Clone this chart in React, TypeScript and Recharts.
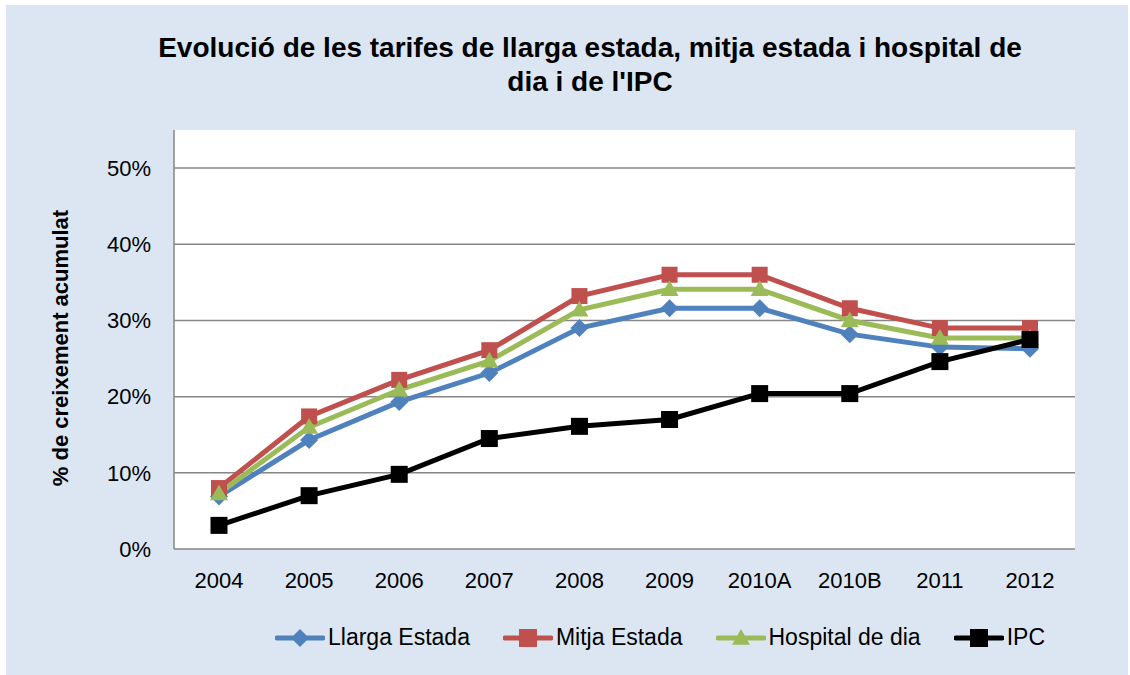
import React from 'react';
import { LineChart, Line, XAxis, YAxis, ReferenceLine } from 'recharts';

const years = ['2004', '2005', '2006', '2007', '2008', '2009', '2010A', '2010B', '2011', '2012'];
const llargaEstada = [6.9, 14.3, 19.3, 23.1, 29.0, 31.6, 31.6, 28.2, 26.5, 26.3];
const mitjaEstada = [8.0, 17.4, 22.2, 26.1, 33.2, 36.0, 36.0, 31.6, 29.0, 29.0];
const hospitalDia = [7.3, 16.0, 20.9, 24.7, 31.4, 34.1, 34.1, 30.0, 27.7, 27.7];
const ipc = [3.1, 7.0, 9.8, 14.5, 16.1, 17.0, 20.4, 20.4, 24.6, 27.5];
const yTicks = [0, 10, 20, 30, 40, 50];

const data = years.map((y, i) => ({
  year: y,
  llarga: llargaEstada[i],
  mitja: mitjaEstada[i],
  hospital: hospitalDia[i],
  ipc: ipc[i],
}));

type Shape = 'diamond' | 'square' | 'triangle';

const series: { key: string; name: string; color: string; shape: Shape; size: number }[] = [
  { key: 'llarga', name: 'Llarga Estada', color: '#4F81BD', shape: 'diamond', size: 9 },
  { key: 'mitja', name: 'Mitja Estada', color: '#C0504D', shape: 'square', size: 8 },
  { key: 'hospital', name: 'Hospital de dia', color: '#9BBB59', shape: 'triangle', size: 9 },
  { key: 'ipc', name: 'IPC', color: '#000000', shape: 'square', size: 8.5 },
];

const marker = (shape: Shape, cx: number, cy: number, r: number, color: string, key?: any) => {
  if (shape === 'diamond') {
    return <path key={key} d={`M${cx},${cy - r}L${cx + r},${cy}L${cx},${cy + r}L${cx - r},${cy}Z`} fill={color} />;
  }
  if (shape === 'triangle') {
    return <path key={key} d={`M${cx},${cy - r}L${cx + r},${cy + r * 0.75}L${cx - r},${cy + r * 0.75}Z`} fill={color} />;
  }
  return <rect key={key} x={cx - r} y={cy - r} width={r * 2} height={r * 2} fill={color} />;
};

const YLabel = () => (
  <text
    x={54}
    y={343}
    transform="rotate(-90, 54, 343)"
    textAnchor="middle"
    dominantBaseline="central"
    fontSize={22}
    fontWeight="bold"
    fill="#000"
  >
    % de creixement  acumulat
  </text>
);

const App: React.FC = () => {
  return (
    <div style={{ position: 'absolute', left: 0, top: 0, width: 1130, height: 675, background: '#fff', fontFamily: '"Liberation Sans", Arial, sans-serif' }}>
      <div style={{ position: 'absolute', left: 6, top: 5, width: 1122, height: 670, background: '#DCE6F2' }} />
      {/* white plot area */}
      <div style={{ position: 'absolute', left: 174, top: 130, width: 901, height: 419, background: '#fff' }} />
      <div style={{ position: 'absolute', left: 6, top: 5 }}>
        <LineChart width={1122} height={670} data={data} margin={{ top: 125, right: 53, bottom: 86, left: 18 }}>
          {yTicks.slice(1).map(t => (
            <ReferenceLine key={t} y={t} stroke="#868686" strokeWidth={1.5} />
          ))}
          <XAxis
            dataKey="year"
            height={40}
            padding={{ left: 45, right: 45 }}
            tickLine={false}
            tickSize={0}
            tickMargin={23}
            axisLine={{ stroke: '#868686', strokeWidth: 1.5 }}
            tick={{ fontSize: 22, fill: '#000' }}
          />
          <YAxis
            width={150}
            domain={[0, 55]}
            ticks={yTicks}
            tickFormatter={(v: number) => `${v}%`}
            tickLine={false}
            tickSize={0}
            tickMargin={23}
            axisLine={{ stroke: '#868686', strokeWidth: 1.5 }}
            tick={{ fontSize: 22, fill: '#000' }}
            label={{ content: () => <YLabel /> }}
          />
          {series.map(s => (
            <Line
              key={s.key}
              dataKey={s.key}
              name={s.name}
              stroke={s.color}
              strokeWidth={5}
              isAnimationActive={false}
              activeDot={false}
              dot={(p: any) => marker(s.shape, p.cx, p.cy, s.size, s.color, `${s.key}-${p.index}`)}
            />
          ))}
        </LineChart>
      </div>
      <div style={{ position: 'absolute', left: 0, top: 31, width: 1180, textAlign: 'center', fontSize: 28, fontWeight: 'bold', lineHeight: '34px', color: '#000', whiteSpace: 'nowrap' }}>
        Evolució de les tarifes de llarga estada, mitja estada i hospital de
        <br />
        dia i de l'IPC
      </div>
      <div style={{ position: 'absolute', left: 275, top: 624, display: 'flex', alignItems: 'center', gap: 33, fontSize: 23, color: '#000', whiteSpace: 'nowrap' }}>
        {series.map(s => (
          <div key={s.key} style={{ display: 'flex', alignItems: 'center' }}>
            <svg width={50} height={22} style={{ marginRight: 3 }}>
              <line x1={2} y1={11} x2={48} y2={11} stroke={s.color} strokeWidth={5} strokeLinecap="round" />
              {marker(s.shape, 25, 11, 9, s.color)}
            </svg>
            <span>{s.name}</span>
          </div>
        ))}
      </div>
    </div>
  );
};

export default App;
